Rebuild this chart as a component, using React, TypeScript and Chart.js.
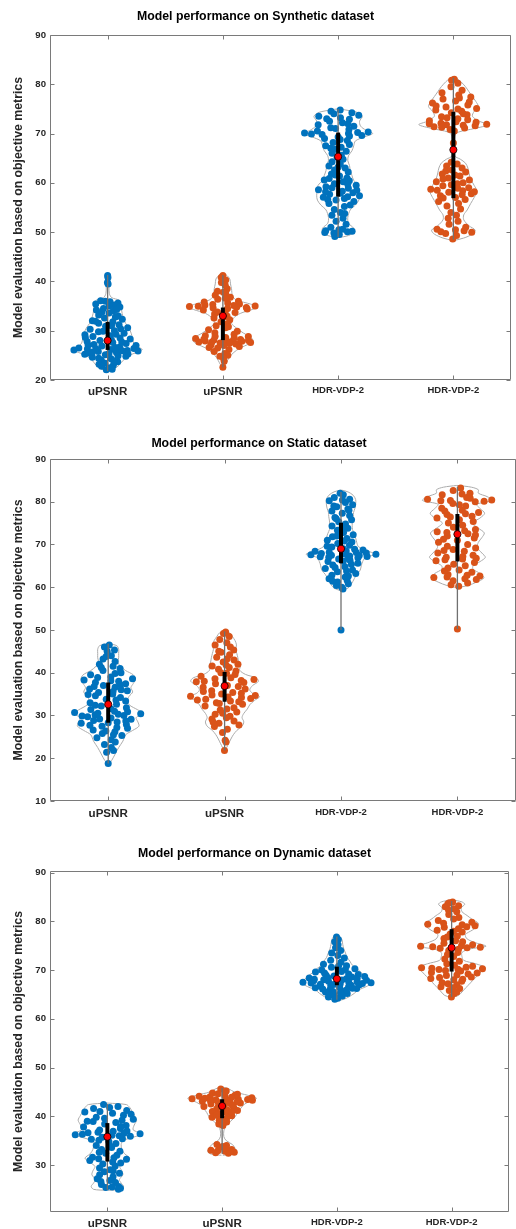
import React, { useEffect, useRef } from 'react';
import { Chart, registerables } from 'chart.js';

Chart.register(...registerables);

const FONT = "'Liberation Sans', Arial, Helvetica, sans-serif";
Chart.defaults.font.family = FONT;

const BLUE = '#0072BD';
const ORANGE = '#D95319';

// ---------- labels ----------
const xLabels = ['uPSNR', 'uPSNR', 'HDR-VDP-2', 'HDR-VDP-2'];
const yTitle = 'Model evaluation based on objective metrics';
const titles = [
  'Model performance on Synthetic dataset',
  'Model performance on Static dataset',
  'Model performance on Dynamic dataset',
];
const synYTicks = [20, 30, 40, 50, 60, 70, 80, 90];
const staYTicks = [10, 20, 30, 40, 50, 60, 70, 80, 90];
const dynYTicks = [30, 40, 50, 60, 70, 80, 90];

// ---------- Synthetic ----------
// shapes: [value, relative half-width]; points: [value, relative jitter]; stats: [min, q1, median, q3, max]
const syn1Shape = [[21.8,0.02],[22.3,0.2],[23,0.33],[24,0.45],[25,0.62],[25.6,0.85],[26.2,1.0],[26.8,0.85],[27.5,0.75],[28.5,0.72],[29.5,0.68],[30.5,0.62],[31.5,0.52],[32.5,0.46],[33.5,0.42],[34.5,0.4],[35.5,0.38],[36.2,0.33],[36.7,0.12],[37.5,0.05],[39,0.04],[40.5,0.06],[41.5,0.02]];
const syn1Points = [[41.2,0],[40.8,0.2],[39.8,-0.1],[39.5,0.3],[36.1,-0.6],[35.9,0.2],[35.6,0.8],[35.4,-0.9],[35.2,0.5],[34.8,0.9],[34.5,-0.3],[34.2,-0.8],[34,0.4],[33.6,0.1],[33.2,-0.6],[33,0.7],[32.6,-0.2],[32.3,0.9],[32,-0.9],[31.8,0.3],[31.5,-0.5],[31.2,0.6],[30.9,-0.1],[30.6,0.95],[30.3,-0.8],[30,0.3],[29.8,-0.4],[29.5,0.7],[29.2,-0.95],[29,0.1],[28.8,-0.6],[28.5,0.5],[28.3,0.9],[28,-0.3],[27.8,-0.8],[27.6,0.2],[27.4,0.7],[27.2,-0.5],[27,1.0],[26.9,-0.2],[26.7,0.4],[26.5,-0.9],[26.4,0.8],[26.3,-0.6],[26.2,0.1],[26.1,-1.0],[26,0.6],[25.9,0.95],[25.8,-0.3],[25.6,0.3],[25.5,-0.7],[25.3,0.8],[25.1,-0.1],[24.9,0.5],[24.6,-0.8],[24.3,0.2],[24,-0.4],[23.7,0.7],[23.4,-0.2],[23,0.5],[22.8,-0.6],[22.5,0.2],[22.2,0.8],[22.1,-0.3],
  [33.8,-0.4],[32.8,0.5],[31.9,-0.7],[31,0.2],[30.4,0.6],[29.9,-0.2],[29.3,0.35],[28.6,-0.9],[28.1,0.15],[27.7,0.55],[27.1,-0.7],[26.6,0.25],[26.35,-0.35],[25.95,0.45],[25.7,-0.5],[25.4,0.05],[25.2,-0.95],[24.8,0.9],[24.4,-0.5],[23.9,0.4],[23.2,-0.7],[35,0.1],[34.3,0.65],[36,-0.2]];
const syn1Stats = [21.8, 26.1, 28, 31.8, 41.3];

const syn2Shape = [[22.5,0.02],[23.5,0.1],[24.5,0.18],[25.5,0.3],[26.5,0.5],[27.3,0.75],[28,0.87],[28.7,0.8],[29.5,0.6],[30.5,0.4],[31.5,0.25],[32.5,0.3],[33.5,0.5],[34.3,0.85],[34.8,1.0],[35.4,0.8],[36.2,0.4],[37,0.28],[38.5,0.25],[39.5,0.22],[40.5,0.2],[41.3,0.1],[41.5,0.02]];
const syn2Points = [[41.2,0],[40.8,-0.3],[40.3,0.4],[39.8,-0.2],[38.5,0.5],[38,-0.6],[37.6,0.3],[37.2,-0.8],[36.8,0.7],[36.4,-0.4],[36,0.9],[35.8,-0.9],[35.6,0.2],[35.4,0.6],[35.2,-0.6],[35,1.0],[34.9,-1.0],[34.8,0.4],[34.6,-0.3],[34.4,0.8],[34.2,-0.7],[34,0.1],[33.7,0.6],[33.4,-0.5],[33,0.3],[32.6,-0.8],[32.2,0.7],[31.8,-0.2],[31.4,0.5],[31,-0.6],[30.6,0.2],[30.2,-0.9],[29.9,0.8],[29.6,-0.4],[29.3,0.5],[29,-0.7],[28.8,0.95],[28.6,0.1],[28.4,-0.95],[28.2,0.6],[28.1,-0.3],[28,0.85],[27.9,-0.6],[27.8,0.3],[27.7,-0.85],[27.6,1.0],[27.5,-0.1],[27.3,0.5],[27.1,-0.5],[26.8,0.8],[26.5,-0.3],[26.2,0.4],[25.8,-0.7],[25.4,0.2],[25,0.6],[24.8,-0.4],[24.4,0.1],[23.8,0.3],[22.6,0],
  [35.3,-0.35],[35.1,0.35],[34.95,-0.75],[34.7,0.7],[34.5,0.15],[33.8,-0.25],[28.9,-0.3],[28.5,0.4],[28.3,-0.65],[28.05,0.1],[27.85,0.65],[27.65,-0.4],[27.45,0.25],[27,0.05],[26.6,-0.75],[30.8,0.45],[32.8,0.1],[36.6,0.2],[37.8,0.05],[39.2,0.3]];
const syn2Stats = [22.6, 28.1, 33, 34.7, 41.3];

const syn3Shape = [[48.9,0.02],[49.3,0.3],[50,0.45],[50.8,0.45],[51.8,0.3],[53,0.28],[54.5,0.35],[55.5,0.5],[56.5,0.6],[57.5,0.62],[58.5,0.6],[59.5,0.58],[60.5,0.45],[61.5,0.4],[62.5,0.35],[63.5,0.33],[64.5,0.28],[65.5,0.3],[66.5,0.4],[67.5,0.45],[68.5,0.5],[69.3,0.75],[70,1.0],[70.7,0.8],[71.5,0.65],[72.5,0.62],[73.5,0.7],[74.3,0.55],[74.8,0.2],[75,0.02]];
const syn3Points = [[74.8,0.3],[74.5,-0.5],[74.2,0.7],[74,-0.2],[73.7,0.9],[73.5,-0.8],[73.2,0.1],[72.9,0.5],[72.5,-0.4],[72.2,0.2],[71.8,-0.9],[71.5,0.7],[71.2,-0.3],[70.8,0.4],[70.5,-0.7],[70.3,0.95],[70.1,-1.0],[70,0.3],[69.8,-0.5],[69.6,0.8],[69.3,0],[69,-0.6],[68.6,0.5],[68.2,-0.3],[67.8,0.7],[67.5,-0.8],[67.2,0.2],[66.8,-0.2],[66.4,0.6],[66,-0.5],[65.6,0.3],[65.2,-0.1],[64.8,0.5],[64.3,-0.6],[63.8,0.2],[63.4,-0.8],[63,0.6],[62.6,-0.3],[62.2,0.8],[61.8,-0.5],[61.4,0.1],[61,0.6],[60.6,-0.9],[60.2,0.3],[59.8,-0.2],[59.5,0.9],[59.2,-0.6],[58.9,0.5],[58.6,-0.95],[58.3,0.2],[58,0.7],[57.7,-0.4],[57.4,1.0],[57.1,-0.7],[56.8,0.3],[56.5,-0.1],[56.2,0.8],[55.8,-0.5],[55.2,0.4],[54.6,-0.3],[54,0.2],[53.4,-0.6],[52.8,0.5],[52.2,-0.2],[51.6,0.7],[51,-0.5],[50.6,0.3],[50.3,-0.8],[50.1,0.6],[49.8,-0.3],[49.5,0.1],[49.1,-0.6],
  [73,-0.5],[72,0.45],[71,-0.1],[70.2,0.6],[69.9,-0.8],[69.5,0.4],[68.8,0.1],[67,-0.5],[63.2,0],[61.6,-0.2],[60.9,-0.6],[60.4,0.7],[59.7,0.5],[59,-0.3],[58.5,0.9],[58.2,-0.6],[57.9,0.1],[57.2,0.45],[56.6,-0.5],[55.5,0.7],[50.5,0.05],[50.2,0.9],[49.9,-0.9],[53.8,0.6]];
const syn3Stats = [49, 57.2, 65.3, 70.2, 75];

const syn4Shape = [[48.3,0.02],[48.8,0.3],[49.6,0.55],[50.4,0.63],[51.3,0.45],[52.5,0.3],[53.5,0.3],[54.5,0.4],[55.8,0.5],[57,0.6],[58.3,0.68],[59.5,0.6],[60.8,0.5],[62,0.45],[63,0.42],[64,0.35],[64.8,0.2],[65.5,0.04],[69.5,0.04],[70.3,0.15],[71,0.6],[71.8,1.0],[72.5,0.75],[73.5,0.55],[74.5,0.6],[75.5,0.72],[76.5,0.65],[77.5,0.55],[78.5,0.45],[79.5,0.35],[80.5,0.22],[81.2,0.1],[81.5,0.02]];
const syn4Points = [[81,0.2],[80.8,-0.3],[80.2,0.5],[79.5,-0.2],[78.8,0.6],[78.3,-0.7],[77.8,0.3],[77.4,0.9],[77,-0.5],[76.6,0.1],[76.2,-0.9],[75.8,0.6],[75.4,-0.3],[75.1,1.0],[74.8,-0.8],[74.5,0.4],[74.2,-0.1],[73.8,0.7],[73.4,-0.6],[73,0.2],[72.6,-0.95],[72.3,0.8],[72.1,-0.4],[71.9,1.0],[71.7,0.3],[71.4,-0.7],[71.1,0.5],[70.8,-0.2],[70.5,0.1],[68.1,0],[64.2,-0.2],[63.8,0.3],[63.4,-0.5],[63,0.6],[62.6,-0.1],[62.2,0.8],[61.8,-0.7],[61.4,0.4],[61,-0.3],[60.6,0.9],[60.2,-0.9],[59.8,0.2],[59.4,-0.5],[59,0.7],[58.7,-1.0],[58.4,0.4],[58.1,-0.2],[57.8,0.8],[57.4,-0.6],[57,0.1],[56.6,0.6],[56.2,-0.8],[55.8,0.3],[55.3,-0.4],[54.7,0.5],[54,-0.2],[53.4,0.3],[52.8,-0.5],[52.2,0.4],[51.6,-0.3],[51,0.7],[50.6,-0.8],[50.3,0.5],[50,0.9],[49.7,-0.4],[49.3,0.2],[48.6,-0.1],
  [77.2,0.3],[76.4,0.7],[75.6,-0.7],[75,0.2],[74,0.5],[73.2,-0.3],[72.8,0.6],[72.4,0.1],[72,-0.75],[71.8,-0.2],[71.6,0.7],[71.3,-0.45],[62.4,-0.5],[61.6,0.1],[60.8,-0.6],[60,0.5],[59.6,-0.1],[58.9,0.2],[58.5,-0.7],[58.2,0.9],[57.6,0.4],[56.9,-0.5],[50.5,0.1],[50.1,-0.6]];
const syn4Stats = [48.5, 56.9, 66.7, 74.4, 81.3];

// ---------- Static ----------
const sta1Shape = [[18.7,0.02],[19.5,0.1],[21,0.2],[22.5,0.3],[24,0.42],[25.5,0.5],[26.5,0.7],[27.5,0.88],[28.5,0.85],[29.5,0.8],[30.5,1.0],[31.3,0.85],[32.5,0.6],[33.5,0.55],[34.5,0.6],[35.5,0.7],[36.5,0.65],[37.5,0.72],[38.5,0.78],[39.5,0.72],[40.5,0.5],[41.5,0.35],[42.5,0.28],[43.5,0.3],[44.5,0.3],[45.5,0.3],[46.3,0.25],[46.8,0.02]];
const sta1Points = [[46.5,0.2],[46,-0.4],[45.3,0.6],[45,-0.1],[44,0.3],[43.2,-0.5],[42.6,0.7],[42,-0.8],[41.5,0.4],[41,0.8],[40.5,-0.3],[40,0.6],[39.5,-0.7],[39,0.1],[38.6,0.9],[38.3,-0.9],[38,0.4],[37.7,-0.5],[37.4,0.7],[37,-0.2],[36.6,0.3],[36.2,-0.8],[35.8,0.8],[35.4,-0.4],[35,0.2],[34.6,-0.6],[34.2,0.6],[33.8,-0.1],[33.4,0.9],[33,-0.9],[32.6,0.4],[32.2,-0.3],[31.8,0.7],[31.4,-0.6],[31,0.2],[30.7,-1.0],[30.4,0.95],[30.2,-0.4],[30,0.5],[29.7,-0.7],[29.4,0.1],[29.1,0.8],[28.8,-0.5],[28.5,0.3],[28.2,-0.9],[27.9,0.6],[27.5,-0.2],[27,0.7],[26.6,-0.6],[26.2,0.3],[25.8,-0.3],[25.3,0.8],[24.8,-0.7],[24.3,0.2],[23.8,0.5],[23.2,-0.3],[22.5,0.3],[21.8,0.6],[21.4,-0.2],[18.8,0],
  [38.9,-0.4],[38.1,0.1],[37.2,0.5],[36.8,-0.6],[35.6,0.2],[34.9,-0.9],[33.6,0.4],[32.4,-0.6],[31.6,0.1],[30.9,0.6],[30.55,-0.3],[30.3,0.3],[29.9,-0.85],[29.2,-0.3],[28.7,0.6],[28.3,0],[27.7,-0.6],[27.2,0.3],[26.4,-0.1],[25.5,0.3],[43.8,-0.2],[41.2,-0.5],[39.8,0.3],[36,0.55]];
const sta1Stats = [18.8, 28.3, 32.6, 37.7, 46.8];

const sta2Shape = [[21.5,0.02],[22.5,0.06],[23.5,0.12],[24.5,0.18],[25.5,0.25],[26.5,0.35],[27.5,0.5],[28.5,0.55],[29.5,0.5],[30.5,0.55],[31.5,0.65],[32.5,0.72],[33.5,0.85],[34.4,1.0],[35.2,0.8],[36,0.72],[37,0.8],[38,0.97],[38.8,0.9],[39.6,0.6],[40.6,0.43],[41.5,0.45],[42.5,0.4],[43.5,0.38],[44.5,0.35],[45.5,0.32],[46.5,0.34],[47.5,0.3],[48.5,0.22],[49.3,0.15],[49.8,0.02]];
const sta2Points = [[49.5,0.3],[49.2,-0.2],[48.5,0.6],[47.8,-0.5],[47,0.2],[46.5,-0.8],[46,0.5],[45.3,0.8],[44.8,-0.3],[44.2,0.4],[43.6,-0.6],[43,0.7],[42.5,-0.1],[42,0.9],[41.6,-0.8],[41.2,0.3],[40.8,-0.4],[40.4,0.7],[40,-0.2],[39.6,0.5],[39.2,-0.9],[38.8,0.2],[38.4,0.9],[38,-0.6],[37.7,0.6],[37.4,-0.3],[37,0.1],[36.6,-0.8],[36.2,0.8],[35.8,-0.5],[35.4,0.3],[35,-0.1],[34.7,0.95],[34.5,-1.0],[34.2,0.5],[33.8,-0.6],[33.4,0.2],[33,-0.3],[32.6,0.7],[32.2,-0.8],[31.8,0.4],[31.3,-0.2],[30.8,0.6],[30.3,-0.5],[29.8,0.3],[29.2,-0.7],[28.7,0.5],[28.2,-0.3],[27.8,0.8],[27.4,-0.6],[26.8,0.2],[26,-0.2],[24.2,0.1],[23.8,0.3],[21.8,-0.1],
  [38.6,-0.3],[38.2,0.5],[37.9,-0.85],[36.8,0.5],[35.6,-0.8],[35.2,0.6],[34.8,-0.4],[34.3,0.1],[34,0.8],[33.6,-0.9],[33.2,0.5],[32.8,-0.2],[31.5,0.1],[30.5,-0.1],[29.5,0.1],[28.5,-0.6],[41.8,0.1],[43.3,0.2],[45,-0.5],[39.9,0.1]];
const sta2Stats = [21.8, 33.2, 36.9, 40.2, 49.7];

const sta3Shape = [[59.2,0.02],[59.8,0.2],[60.8,0.3],[62,0.38],[63,0.45],[64,0.55],[65,0.58],[66,0.62],[67,0.7],[67.7,1.0],[68.5,0.75],[69.5,0.5],[70.5,0.45],[71.5,0.42],[72.5,0.38],[73.5,0.33],[74.5,0.32],[75.5,0.33],[76.5,0.35],[77.5,0.36],[78.5,0.4],[79.5,0.42],[80.5,0.42],[81.5,0.35],[82.3,0.2],[82.7,0.02]];
const sta3Points = [[82,-0.1],[81.6,0.2],[81,-0.5],[80.6,0.6],[80.2,-0.8],[79.8,0.3],[79.3,0.8],[78.8,-0.3],[78.3,0.5],[77.8,-0.7],[77.3,0.1],[76.8,0.7],[76.3,-0.5],[75.8,0.9],[75.3,-0.2],[74.8,0.4],[74.3,-0.8],[73.8,0.6],[73.3,-0.3],[72.8,0.2],[72.3,0.9],[71.8,-0.6],[71.4,0.4],[71,-0.9],[70.6,0.7],[70.2,-0.2],[69.8,0.5],[69.4,-0.5],[69,0.1],[68.7,0.9],[68.4,-0.95],[68.1,0.5],[67.9,-0.6],[67.7,1.0],[67.5,-0.3],[67.3,0.3],[67.1,-0.8],[66.9,0.7],[66.6,-0.1],[66.3,0.4],[66,-0.6],[65.6,0.8],[65.2,-0.4],[64.8,0.2],[64.4,-0.8],[64,0.6],[63.6,-0.2],[63.2,0.9],[62.8,-0.6],[62.4,0.3],[62,-0.9],[61.6,0.5],[61.2,-0.3],[60.8,0.7],[60.4,-0.5],[60,0.1],[59.6,0.4],[50,0],
  [80.4,0.1],[79,-0.5],[78,0.6],[76,-0.4],[74,0.1],[72,-0.3],[70.8,0.2],[69.6,-0.8],[68.9,0.6],[68.5,0.2],[68.2,-0.4],[68,0.8],[67.8,0.1],[67.6,-0.9],[67.4,0.6],[67.2,0.95],[67,-0.5],[66.7,0.3],[66.1,0.1],[65.4,0.5],[64.6,-0.3],[63.8,0.3],[62.6,0.5],[61.4,-0.7]];
const sta3Stats = [50, 65.6, 69, 75.1, 82.3];

const sta4Shape = [[59.9,0.02],[60.4,0.3],[61.2,0.55],[62.2,0.76],[63.2,0.65],[64.2,0.45],[65,0.45],[66,0.65],[67,0.8],[68,0.7],[69.3,0.57],[70.5,0.6],[71.6,0.7],[72.7,0.77],[73.8,0.6],[75,0.43],[76.2,0.65],[77.3,0.78],[78.4,0.65],[79.4,0.55],[80.3,1.0],[81.2,0.85],[82,0.6],[82.8,0.6],[83.4,0.4],[83.8,0.02]];
const sta4Points = [[83.2,0.2],[82.6,-0.2],[82,0.6],[81.6,-0.6],[81,0.3],[80.6,-0.9],[80.4,1.0],[80.2,-0.5],[80,0.6],[79.6,-0.2],[79,0.4],[78.5,-0.7],[78,0.2],[77.5,0.8],[77,-0.4],[76.6,0.6],[76.2,-0.9],[75.8,0.1],[75.4,0.9],[75,-0.6],[74.5,0.3],[74,-0.2],[73.5,0.8],[73,-0.8],[72.5,0.4],[72,-0.4],[71.5,0.7],[71,0],[70.5,-0.9],[70,0.5],[69.6,-0.5],[69.2,0.9],[68.8,-0.2],[68.4,0.3],[68,-0.8],[67.5,0.6],[67,-0.4],[66.6,0.2],[66.2,-0.9],[65.8,0.8],[65.4,-0.2],[65,0.5],[64.5,-0.6],[64,0.1],[63.5,0.7],[63,-0.4],[62.6,0.9],[62.3,-0.9],[62,0.3],[61.5,-0.2],[61,0.6],[60.6,-0.5],[60.2,0.2],[50.2,0],
  [81.8,0.2],[80.8,0.4],[80.3,-0.2],[80.1,0.85],[79.3,0.1],[77.8,-0.5],[77.2,0.3],[76.4,-0.3],[73.2,0.3],[72.8,-0.4],[72.2,0.7],[71.2,-0.6],[68.6,-0.6],[67.2,0.2],[66.8,0.7],[66.4,-0.5],[63.8,-0.7],[62.8,0.4],[62.4,-0.4],[61.8,0.8]];
const sta4Stats = [50.2, 66, 72.4, 77.1, 83.5];

// ---------- Dynamic ----------
const dyn1Shape = [[24.8,0.02],[25,0.4],[25.6,0.47],[26.3,0.4],[27,0.35],[28,0.45],[28.8,0.42],[29.7,0.36],[30.5,0.5],[31.4,0.65],[32.3,0.5],[33.2,0.42],[34.2,0.4],[35,0.45],[35.8,0.8],[36.4,1.0],[37.2,0.75],[38.2,0.78],[39.2,0.85],[40.2,0.78],[41,0.72],[41.8,0.65],[42.4,0.55],[42.7,0.02]];
const dyn1Points = [[42.4,-0.2],[42,0.5],[41.6,-0.6],[41.2,0.8],[40.9,-0.9],[40.6,0.2],[40.2,0.6],[39.8,-0.4],[39.4,0.9],[39,-0.7],[38.7,0.3],[38.4,-0.1],[38.1,0.7],[37.8,-0.9],[37.5,0.5],[37.2,-0.3],[36.9,0.2],[36.6,-0.6],[36.4,0.95],[36.2,-1.0],[36,0.4],[35.7,-0.2],[35.4,0.7],[35.1,-0.5],[34.8,0.1],[34.4,0.6],[34,-0.8],[33.6,0.3],[33.2,-0.4],[32.8,0.8],[32.4,-0.1],[32,0.5],[31.6,-0.7],[31.2,0.9],[30.9,-0.9],[30.6,0.3],[30.2,-0.3],[29.8,0.6],[29.4,-0.6],[29,0.2],[28.6,-0.2],[28.3,0.8],[28,-0.5],[27.6,0.4],[27.2,-0.8],[26.8,0.2],[26.4,0.6],[26,-0.4],[25.6,0.7],[25.4,-0.1],[25.2,0.9],[25,0.8],
  [41.8,0.1],[41,-0.3],[40.4,0.9],[39.6,-0.1],[39.2,0.5],[38.9,-0.5],[37.9,0.5],[37,0.7],[36.7,-0.3],[36.5,0.5],[36.3,-0.75],[36.1,0.15],[35.9,0.8],[35.3,-0.8],[33.9,0.2],[32.6,-0.5],[31.5,0.3],[31.3,-0.4],[30.4,0.8],[28.8,0.4],[26.6,-0.5],[25.5,0.3]];
const dyn1Stats = [24.9, 30.7, 35.8, 38.6, 42.5];

const dyn2Shape = [[32,0.02],[32.3,0.35],[32.8,0.42],[33.4,0.38],[34.2,0.3],[35,0.12],[35.8,0.05],[37,0.05],[38,0.1],[39,0.25],[39.9,0.38],[40.8,0.45],[41.7,0.55],[42.5,0.65],[43.2,0.85],[43.7,1.0],[44.3,0.75],[45,0.35],[45.6,0.2],[46,0.02]];
const dyn2Points = [[45.6,-0.2],[45.2,0.4],[44.8,-0.6],[44.5,0.7],[44.2,0.1],[44,-0.4],[43.8,0.9],[43.6,-0.9],[43.5,0.5],[43.4,-0.2],[43.3,1.0],[43.1,-0.7],[42.9,0.3],[42.7,0.75],[42.5,-0.5],[42.3,0.1],[42,-0.9],[41.8,0.6],[41.5,-0.3],[41.2,0.9],[41,-0.6],[40.7,0.3],[40.4,-0.1],[40.1,0.7],[39.8,-0.8],[39.5,0.4],[39.2,-0.3],[38.8,0.6],[38.4,-0.6],[38.1,0.2],[34.2,-0.5],[34,0.4],[33.6,-0.2],[33.2,0.7],[33,-0.8],[32.8,0.2],[32.6,0.9],[32.5,-0.5],[32.4,0.5],
  [44.9,0.2],[44.6,-0.2],[44.3,0.5],[44.1,-0.8],[43.9,0.3],[43.7,-0.5],[43.45,0.8],[43.35,0.15],[43.2,-0.4],[43,0.55],[42.8,-0.15],[42.6,0.35],[42.2,0.5],[41.9,-0.2],[41.3,0.3],[40.9,0.6],[40.2,-0.4],[39.4,-0.1],[33.8,0.05],[32.9,-0.3],[32.7,0.55],[33.4,0.3]];
const dyn2Stats = [32.3, 39.6, 42.1, 43.5, 45.8];

const dyn3Shape = [[63.7,0.02],[64,0.2],[64.5,0.35],[65.2,0.5],[65.9,0.62],[66.6,0.85],[67.3,1.0],[68,0.95],[68.7,0.85],[69.4,0.72],[70.2,0.6],[71,0.45],[71.8,0.38],[72.6,0.3],[73.5,0.25],[74.4,0.2],[75.3,0.17],[76.2,0.15],[76.8,0.1],[77.1,0.02]];
const dyn3Points = [[76.8,-0.1],[76.3,0.3],[75.8,-0.4],[75.2,0.2],[74.6,-0.2],[74,0.5],[73.5,-0.6],[73,0.1],[72.5,0.7],[72,-0.5],[71.6,0.3],[71.2,-0.9],[70.9,0.6],[70.6,-0.3],[70.3,0.9],[70,-0.7],[69.7,0.2],[69.4,-0.5],[69.1,0.8],[68.8,-0.1],[68.6,0.5],[68.4,-0.9],[68.2,0.3],[68,-0.4],[67.9,0.9],[67.8,-0.7],[67.6,0.6],[67.5,-1.0],[67.4,1.0],[67.2,0.1],[67.1,-0.5],[67,0.7],[66.8,-0.2],[66.6,0.4],[66.4,-0.8],[66.2,0.8],[66,-0.3],[65.8,0.2],[65.5,-0.6],[65.2,0.6],[65,-0.2],[64.7,0.4],[64.5,-0.7],[64.2,0.1],[64,-0.3],
  [70.8,0.1],[70.1,0.4],[69.6,-0.9],[69.2,0.45],[69,-0.4],[68.7,0.95],[68.5,-0.3],[68.3,0.65],[68.1,-0.7],[67.95,0.15],[67.7,-0.25],[67.55,0.35],[67.35,-0.75],[67.25,0.75],[67.05,-0.1],[66.9,0.45],[66.7,-0.55],[66.5,0.1],[66.3,0.6],[66.1,-0.6],[65.9,0.45],[65.6,-0.2],[65.3,0.2],[64.9,-0.5]];
const dyn3Stats = [63.9, 66.9, 68.2, 70.7, 76.9];

const dyn4Shape = [[64.4,0.02],[64.8,0.2],[65.5,0.3],[66.3,0.4],[67,0.5],[67.8,0.6],[68.7,0.73],[69.6,0.85],[70.5,0.97],[71.3,0.7],[72,0.35],[72.8,0.3],[73.6,0.3],[74.3,0.5],[74.9,1.0],[75.6,0.7],[76.4,0.45],[77.3,0.4],[78.2,0.6],[79,0.75],[79.6,0.78],[80.4,0.6],[81.2,0.45],[82,0.3],[82.8,0.28],[83.5,0.38],[84,0.3],[84.4,0.02]];
const dyn4Points = [[84,0.1],[83.6,-0.3],[83.2,0.6],[83,-0.6],[82.6,0.2],[82,0.5],[81.4,-0.2],[80.8,0.4],[80.2,-0.6],[79.8,0.8],[79.4,-0.9],[79.1,0.9],[78.8,-0.3],[78.5,0.3],[78.2,-0.7],[77.8,0.6],[77.4,-0.1],[77,0.4],[76.5,-0.5],[76,0.2],[75.5,-0.3],[75.2,0.7],[74.9,-0.9],[74.7,1.0],[74.5,-0.5],[74.3,0.4],[74,-0.2],[73.6,0.6],[73.2,-0.4],[72.8,0.2],[72.3,-0.6],[71.8,0.5],[71.3,-0.2],[70.8,0.7],[70.5,-0.9],[70.3,0.95],[70.1,-0.4],[69.8,0.3],[69.5,-0.7],[69.2,0.6],[68.9,-0.2],[68.6,0.8],[68.3,-0.9],[68,0.1],[67.7,0.5],[67.4,-0.5],[67,0.3],[66.6,-0.7],[66.2,0.6],[65.8,-0.2],[65.2,0.3],[64.5,-0.1],
  [83.8,-0.2],[82.3,-0.3],[80.5,0.1],[79.6,-0.3],[79.3,0.4],[78.9,0.6],[78,0.1],[76.8,-0.3],[75.8,0.5],[75,0.3],[74.8,-0.6],[74.6,0.6],[71,0.1],[70.6,0.45],[70.4,-0.6],[70.2,0.2],[69.9,-0.2],[69.4,0.9],[69,0.2],[68.5,-0.5],[68.1,0.5],[67.2,-0.2],[66.4,0.1],[65.5,0.5]];
const dyn4Stats = [64.5, 69.7, 74.6, 78.4, 84.2];

// ---------- rendering helpers ----------
const HALF = 0.3;

type Violin = { cat: number; color: string; shape: number[][]; points: number[][]; stats: number[] };

function widthAt(shape: number[][], y: number): number {
  if (y <= shape[0][0] || y >= shape[shape.length - 1][0]) return 0;
  for (let i = 0; i < shape.length - 1; i++) {
    const [y0, w0] = shape[i];
    const [y1, w1] = shape[i + 1];
    if (y >= y0 && y <= y1) return w0 + ((y - y0) / (y1 - y0)) * (w1 - w0);
  }
  return 0;
}

function buildDatasets(violins: Violin[]) {
  const ds: any[] = [];
  violins.forEach((v) => {
    const right = v.shape.map(([y, w]) => ({ x: v.cat + w * HALF, y }));
    const left = v.shape.slice().reverse().map(([y, w]) => ({ x: v.cat - w * HALF, y }));
    ds.push({
      data: [...right, ...left],
      showLine: true, borderColor: '#ababab', borderWidth: 1, pointRadius: 0, pointHoverRadius: 0,
      tension: 0.3, fill: false, order: 5,
    });
    ds.push({
      data: [{ x: v.cat, y: v.stats[0] }, { x: v.cat, y: v.stats[4] }],
      showLine: true, borderColor: '#707070', borderWidth: 1.3, pointRadius: 0, pointHoverRadius: 0, order: 3,
    });
    ds.push({
      data: v.points.map(([y, f]) => ({ x: v.cat + f * HALF * widthAt(v.shape, y), y })),
      showLine: false, pointRadius: 3.5, pointHoverRadius: 3.5, pointBackgroundColor: v.color,
      pointBorderWidth: 0, pointBorderColor: v.color, order: 4,
    });
    ds.push({
      data: [{ x: v.cat, y: v.stats[1] }, { x: v.cat, y: v.stats[3] }],
      showLine: true, borderColor: '#000000', borderWidth: 4, borderCapStyle: 'butt',
      pointRadius: 0, pointHoverRadius: 0, order: 2,
    });
    ds.push({
      data: [{ x: v.cat, y: v.stats[2] }],
      showLine: false, pointRadius: 3.6, pointHoverRadius: 3.6, pointBackgroundColor: '#ff0000',
      pointBorderColor: '#000000', pointBorderWidth: 0.8, order: 1,
    });
  });
  return ds;
}

const framePlugin = {
  id: 'matlabFrame',
  afterDraw(chart: any) {
    const { ctx, chartArea } = chart;
    const { left, right, top, bottom } = chartArea;
    const xs = chart.scales.x;
    const ys = chart.scales.y;
    ctx.save();
    ctx.strokeStyle = '#7a7a7a';
    ctx.lineWidth = 1;
    const L = Math.round(left) + 0.5, R = Math.round(right) - 0.5, T = Math.round(top) + 0.5, B = Math.round(bottom) - 0.5;
    ctx.beginPath();
    ctx.moveTo(L, T); ctx.lineTo(R, T); ctx.lineTo(R, B); ctx.lineTo(L, B); ctx.closePath();
    ys.ticks.forEach((t: any) => {
      const py = Math.round(ys.getPixelForValue(t.value)) + 0.5;
      ctx.moveTo(L, py); ctx.lineTo(L + 4, py);
      ctx.moveTo(R, py); ctx.lineTo(R - 4, py);
    });
    xs.ticks.forEach((t: any) => {
      const px = Math.round(xs.getPixelForValue(t.value)) + 0.5;
      ctx.moveTo(px, B); ctx.lineTo(px, B - 4);
      ctx.moveTo(px, T); ctx.lineTo(px, T + 4);
    });
    ctx.stroke();
    ctx.restore();
  },
};

type PanelProps = {
  top: number; width: number; height: number; title: string; titlePad: [number, number];
  yMin: number; yMax: number; yTicks: number[]; xAxisHeight: number; xPad: number; padRight: number;
  violins: Violin[];
};

function Panel(p: PanelProps) {
  const ref = useRef<HTMLCanvasElement | null>(null);
  useEffect(() => {
    if (!ref.current) return;
    const chart = new Chart(ref.current, {
      type: 'scatter',
      data: { datasets: buildDatasets(p.violins) },
      plugins: [framePlugin],
      options: {
        animation: false,
        responsive: false,
        devicePixelRatio: 1,
        events: [],
        layout: { padding: { top: 0, left: 0, right: p.padRight, bottom: 0 } },
        plugins: {
          legend: { display: false },
          tooltip: { enabled: false },
          title: {
            display: true, text: p.title, color: '#000000',
            font: { family: FONT, size: 12.3, weight: 'bold', lineHeight: 1.2 },
            padding: { top: p.titlePad[0], bottom: p.titlePad[1] },
          },
        },
        scales: {
          x: {
            type: 'linear', min: 0.5, max: 4.5,
            afterBuildTicks: (s: any) => { s.ticks = [1, 2, 3, 4].map((v) => ({ value: v })); },
            afterFit: (s: any) => { s.height = p.xAxisHeight; },
            grid: { display: false, drawTicks: false },
            border: { display: false },
            ticks: {
              autoSkip: false, maxRotation: 0, padding: p.xPad, color: '#262626',
              callback: (_v: any, i: number) => xLabels[i],
              font: (ctx: any) => ({ family: FONT, size: ctx.index < 2 ? 11.6 : 9.5, weight: 'bold' }),
            },
          },
          y: {
            type: 'linear', min: p.yMin, max: p.yMax,
            afterBuildTicks: (s: any) => { s.ticks = p.yTicks.map((v) => ({ value: v })); },
            afterFit: (s: any) => { s.width = 50; },
            grid: { display: false, drawTicks: false },
            border: { display: false },
            ticks: { padding: 4, color: '#262626', font: { family: FONT, size: 9.6, weight: 'bold' } },
            title: {
              display: true, text: yTitle, color: '#262626',
              font: { family: FONT, size: 12.3, weight: 'bold', lineHeight: 1.2 },
              padding: { top: 11.5, bottom: 0 },
            },
          },
        },
      } as any,
    });
    return () => chart.destroy();
  }, []);
  return (
    <canvas
      ref={ref}
      width={p.width}
      height={p.height}
      style={{ position: 'absolute', left: 0, top: p.top, width: p.width, height: p.height }}
    />
  );
}

const synViolins: Violin[] = [
  { cat: 1, color: BLUE, shape: syn1Shape, points: syn1Points, stats: syn1Stats },
  { cat: 2, color: ORANGE, shape: syn2Shape, points: syn2Points, stats: syn2Stats },
  { cat: 3, color: BLUE, shape: syn3Shape, points: syn3Points, stats: syn3Stats },
  { cat: 4, color: ORANGE, shape: syn4Shape, points: syn4Points, stats: syn4Stats },
];
const staViolins: Violin[] = [
  { cat: 1, color: BLUE, shape: sta1Shape, points: sta1Points, stats: sta1Stats },
  { cat: 2, color: ORANGE, shape: sta2Shape, points: sta2Points, stats: sta2Stats },
  { cat: 3, color: BLUE, shape: sta3Shape, points: sta3Points, stats: sta3Stats },
  { cat: 4, color: ORANGE, shape: sta4Shape, points: sta4Points, stats: sta4Stats },
];
const dynViolins: Violin[] = [
  { cat: 1, color: BLUE, shape: dyn1Shape, points: dyn1Points, stats: dyn1Stats },
  { cat: 2, color: ORANGE, shape: dyn2Shape, points: dyn2Points, stats: dyn2Stats },
  { cat: 3, color: BLUE, shape: dyn3Shape, points: dyn3Points, stats: dyn3Stats },
  { cat: 4, color: ORANGE, shape: dyn4Shape, points: dyn4Points, stats: dyn4Stats },
];

export default function App() {
  return (
    <div style={{ position: 'absolute', left: 0, top: 0, width: 516, height: 1229, overflow: 'hidden', background: '#ffffff' }}>
      <Panel top={0} width={516} height={405} title={titles[0]} titlePad={[8.8, 11.4]}
        yMin={20} yMax={90} yTicks={synYTicks} xAxisHeight={25} xPad={5} padRight={5} violins={synViolins} />
      <Panel top={405} width={520} height={420} title={titles[1]} titlePad={[30.9, 8.3]}
        yMin={10} yMax={90} yTicks={staYTicks} xAxisHeight={24} xPad={6} padRight={2} violins={staViolins} />
      <Panel top={825} width={516} height={404} title={titles[2]} titlePad={[21.4, 9.8]}
        yMin={20.35} yMax={90.35} yTicks={dynYTicks} xAxisHeight={17} xPad={5} padRight={7} violins={dynViolins} />
    </div>
  );
}
